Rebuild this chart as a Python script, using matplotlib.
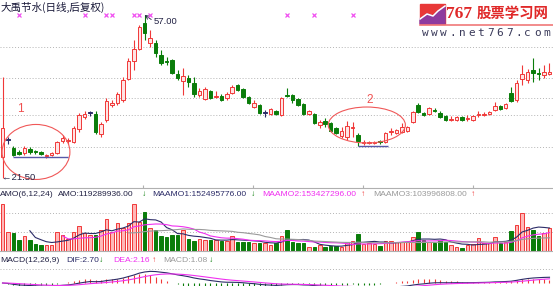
import numpy as np
import pandas as pd
import matplotlib
matplotlib.use('Agg')
import matplotlib.pyplot as plt
from matplotlib.patches import Ellipse, Rectangle, Polygon

plt.rcParams['font.family'] = ['Liberation Sans', 'DejaVu Sans']
CJK = ['Noto Sans CJK SC', 'DejaVu Sans']

# ================= 日K线数据 (后复权) =================
opens = [26.08, 29.78, 28.04, 27.17, 26.95, 27.82, 27.28, 27.17, 26.19, 26.51,
         26.95, 29.56, 29.56, 29.34, 32.17, 34.79, 35.66, 35.44, 31.09, 34.13,
         37.40, 37.84, 38.49, 43.06, 46.98, 49.60, 55.26, 50.90, 50.90, 48.29,
         46.98, 47.20, 44.15, 42.63, 43.28, 42.19, 39.58, 38.71, 40.45, 39.15,
         39.36, 38.93, 40.02, 41.76, 40.89, 39.15, 36.97, 37.40, 35.66, 35.44,
         36.10, 35.22, 39.58, 39.58, 38.71, 37.62, 35.44, 35.44, 33.05, 33.92,
         33.48, 32.39, 30.65, 30.43, 32.39, 30.87, 29.13, 29.13, 29.13, 29.56,
         29.34, 31.52, 31.30, 31.52, 31.74, 33.70, 37.40, 35.66, 35.44, 36.31,
         35.66, 35.01, 34.13, 34.13, 34.79, 34.35, 34.13, 35.22, 35.22, 35.44,
         36.31, 37.19, 36.75, 40.02, 38.49, 43.06, 42.84, 45.02, 44.37, 43.93,
         44.15]
highs = [43.50, 30.43, 28.47, 27.60, 28.47, 28.26, 27.60, 27.39, 26.73, 27.17,
         29.56, 30.87, 30.22, 32.83, 35.66, 36.10, 36.10, 36.10, 33.70, 38.93,
         38.49, 40.23, 43.50, 47.63, 51.56, 54.82, 57.00, 53.73, 51.56, 49.38,
         47.85, 47.42, 45.02, 45.46, 43.93, 43.50, 41.10, 41.32, 40.67, 40.45,
         39.80, 40.23, 41.76, 41.97, 41.10, 39.36, 38.49, 37.62, 36.31, 36.75,
         36.31, 39.15, 41.10, 39.80, 38.93, 37.84, 36.31, 35.66, 34.13, 34.57,
         33.70, 32.61, 32.61, 33.92, 33.70, 31.30, 29.78, 29.56, 29.56, 29.78,
         31.52, 32.39, 32.17, 33.48, 32.83, 36.10, 37.84, 35.88, 36.97, 36.75,
         36.10, 35.22, 35.01, 35.01, 35.01, 35.22, 35.22, 36.10, 35.88, 36.10,
         38.06, 37.40, 37.84, 41.32, 42.84, 46.11, 45.24, 47.63, 45.46, 46.11,
         46.55]
lows = [21.50, 28.91, 26.30, 26.51, 26.51, 26.73, 26.73, 26.51, 25.86, 26.30,
        26.73, 29.13, 28.91, 29.13, 31.52, 34.35, 35.01, 31.09, 30.43, 33.70,
        36.97, 37.40, 38.06, 42.84, 45.02, 49.38, 51.56, 50.03, 47.85, 46.11,
        46.11, 44.15, 42.84, 39.58, 41.32, 39.15, 39.15, 38.49, 38.71, 38.93,
        38.27, 38.49, 39.80, 40.45, 38.93, 37.62, 36.75, 35.44, 34.79, 35.22,
        35.22, 35.01, 39.15, 37.84, 37.19, 35.22, 35.22, 33.26, 32.39, 32.61,
        31.52, 31.09, 30.22, 29.78, 30.43, 28.47, 28.69, 28.91, 28.91, 28.91,
        29.13, 30.87, 31.09, 31.30, 31.52, 33.48, 35.66, 35.01, 35.22, 35.88,
        34.57, 33.92, 33.92, 33.92, 33.92, 33.92, 33.92, 34.79, 35.01, 35.22,
        36.10, 36.31, 36.53, 38.06, 38.06, 41.76, 42.19, 42.41, 42.84, 43.28,
        43.93]
closes = [32.39, 29.78, 26.51, 26.73, 28.04, 27.17, 27.06, 26.73, 26.41, 26.95,
          29.34, 30.22, 29.78, 32.39, 35.22, 35.44, 35.66, 31.52, 33.26, 38.27,
          37.84, 39.80, 42.84, 46.98, 49.60, 54.39, 53.08, 51.99, 48.72, 46.55,
          46.76, 44.37, 43.28, 43.71, 42.41, 39.80, 40.45, 40.89, 38.93, 39.36,
          38.49, 39.80, 41.32, 40.67, 39.15, 37.84, 37.84, 35.66, 35.66, 36.53,
          35.44, 38.93, 39.36, 38.49, 37.40, 35.44, 36.10, 33.48, 33.70, 33.26,
          31.74, 31.30, 31.74, 32.83, 32.61, 29.56, 29.34, 29.34, 29.34, 29.34,
          31.30, 31.74, 31.96, 32.61, 32.61, 35.88, 35.88, 35.22, 36.75, 36.10,
          34.79, 34.13, 34.35, 34.79, 34.13, 34.57, 35.01, 35.44, 35.44, 35.88,
          37.19, 36.53, 37.62, 38.27, 42.19, 44.15, 44.59, 44.37, 44.15, 44.59,
          44.59]
# 成交额 AMO, 单位: 亿元
amo = [2.47, 1.01, 0.96, 0.58, 0.79, 0.58, 0.35, 0.32, 0.32, 0.32,
       0.98, 0.84, 0.61, 0.98, 1.33, 0.93, 0.84, 0.84, 1.10, 1.66,
       1.01, 1.45, 1.19, 1.45, 2.50, 1.54, 2.03, 1.19, 1.10, 0.79,
       0.75, 0.84, 0.84, 1.10, 0.61, 0.54, 0.61, 0.58, 0.58, 0.58,
       0.54, 0.54, 0.79, 0.49, 0.49, 0.49, 0.40, 0.44, 0.44, 0.32,
       0.42, 0.79, 1.10, 0.49, 0.44, 0.40, 0.23, 0.23, 0.32, 0.23,
       0.26, 0.26, 0.23, 0.49, 0.53, 0.88, 0.37, 0.40, 0.37, 0.28,
       0.53, 0.53, 0.49, 0.49, 0.49, 0.72, 1.01, 0.58, 0.49, 0.40,
       0.58, 0.49, 0.32, 0.23, 0.17, 0.32, 0.35, 0.67, 0.40, 0.40,
       0.72, 0.40, 0.46, 1.05, 1.37, 2.01, 1.24, 1.10, 0.79, 0.93,
       1.19]

info_days = [3, 15, 19, 20, 24, 25, 27, 52, 57, 64]   # 信息地雷
price_grid = [50.03, 43.28, 38.93, 35.22, 28.26]
amo_grid = [1.0, 2.0]
month_ticks = [25.7, 45.8, 65.9, 86.0]

RED = '#F03838'
GREEN = '#0A7D0A'
NAVY = '#2C2C68'
MAGENTA = '#F030F0'
GRAY = '#9A9A9A'
TXT = '#222244'

o = np.array(opens); h = np.array(highs); l = np.array(lows); c = np.array(closes)
x = np.arange(len(c))
up = c > o
down = c < o
edge = np.where(up, RED, np.where(down, GREEN, NAVY))
face = np.where(up, '#FFE4E4', np.where(down, GREEN, NAVY))
body_bot = np.minimum(o, c)
body_h = np.maximum(np.abs(c - o), 0.12)

W, H = 553, 286
fig = plt.figure(figsize=(W / 100, H / 100), dpi=100)


def px_axes(top, bottom):
    return fig.add_axes([0, (H - bottom) / H, 1, (bottom - top) / H])


XLIM = (-0.46, 100.64)

# ================= 主图 K线 =================
ax = px_axes(0, 188)
ax.set_xlim(*XLIM)
ax.set_ylim(19.32, 60.27)
for g in price_grid:
    ax.axhline(g, color='#B4B4B4', lw=0.7, ls=(0, (1, 2)), zorder=0)
ax.vlines(x, l, h, colors=edge, lw=0.8, zorder=2)
ax.bar(x, body_h, bottom=body_bot, width=0.64, color=face, edgecolor=edge,
       linewidth=0.7, zorder=3)

ax.plot(info_days, [0.92] * len(info_days), 'x', color='#F050F0', ms=3, mew=0.9,
        transform=ax.get_xaxis_transform(), zorder=4)

top_i = int(np.argmax(h))
ax.annotate('%.2f' % h[top_i], xy=(top_i, h[top_i]), xytext=(top_i + 1.7, 55.6),
            fontsize=6.8, color=TXT, va='center', ha='left',
            arrowprops=dict(arrowstyle='->', color=TXT, lw=0.6, shrinkA=0, shrinkB=0,
                            relpos=(0, 0.5)))
low_i = int(np.argmin(l))
ax.text(low_i - 0.1, l[low_i], '←%.2f' % l[low_i], fontsize=6.8, color=TXT,
        va='center', ha='left', zorder=6)

# 底部区域标注
ax.add_patch(Ellipse((6.12, 27.17), 12.4, 11.98, fill=False, ec='#F05858', lw=0.8, zorder=5))
ax.add_patch(Ellipse((66.6, 33.04), 14.1, 7.84, fill=False, ec='#F05858', lw=0.8, zorder=5))
ax.hlines(26.08, 2, 12, color='#5858A8', lw=1.0, zorder=5)
ax.hlines(28.47, 65, 70.5, color='#5858A8', lw=1.0, zorder=5)
ax.text(3.2, 36.53, '1', color='#F05050', fontsize=8.5, ha='center', va='center')
ax.text(67.2, 38.49, '2', color='#F05050', fontsize=8.5, ha='center', va='center')

for s in ['top', 'left', 'right']:
    ax.spines[s].set_visible(False)
ax.spines['bottom'].set_color('#B0B0B0')
ax.spines['bottom'].set_linewidth(0.8)
ax.set_xticks(month_ticks)
ax.tick_params(axis='x', direction='in', length=2, color='#B0B0B0', labelbottom=False)
ax.set_yticks([])

# ================= AMO 成交额 =================
av = px_axes(199, 251)
av.set_xlim(*XLIM)
av.set_ylim(0, 52 / 19)
for g in amo_grid:
    av.axhline(g, color='#B4B4B4', lw=0.7, ls=(0, (1, 2)), zorder=0)
vface = np.where(down, GREEN, '#FFB8B8')
vedge = np.where(down, GREEN, RED)
av.bar(x, amo, width=0.64, color=vface, edgecolor=vedge, linewidth=0.7, zorder=2)
amo_s = pd.Series(amo)
av.plot(x, amo_s.rolling(6).mean(), color=NAVY, lw=0.8, zorder=3)
av.plot(x, amo_s.rolling(12).mean(), color=MAGENTA, lw=0.8, zorder=3)
av.plot(x, amo_s.rolling(24).mean(), color=GRAY, lw=0.8, zorder=3)
for s in ['top', 'left', 'right']:
    av.spines[s].set_visible(False)
av.spines['bottom'].set_color('#B0B0B0')
av.set_xticks([])
av.set_yticks([])

# ================= MACD =================
am = px_axes(262, 304)
am.set_xlim(*XLIM)
am.set_ylim(-10, 10)
close_s = pd.Series(closes)
dif = close_s.ewm(span=12, adjust=False).mean() - close_s.ewm(span=26, adjust=False).mean()
dea = dif.ewm(span=9, adjust=False).mean()
macd = 2 * (dif - dea)
am.axhline(6.6, color='#B4B4B4', lw=0.7, ls=(0, (1, 2)), zorder=0)
am.vlines(x, 0, macd, colors=np.where(macd >= 0, RED, GREEN), lw=0.8, zorder=2)
am.plot(x, dif, color=NAVY, lw=0.8, zorder=3)
am.plot(x, dea, color=MAGENTA, lw=0.8, zorder=3)
am.axis('off')

# ================= 文字 / 标识 =================
ov = fig.add_axes([0, 0, 1, 1])
ov.set_xlim(0, W)
ov.set_ylim(H, 0)
ov.axis('off')
ov.patch.set_alpha(0)

ov.text(1, 7, '大禹节水(日线,后复权)', family=CJK, fontsize=7.6, color='#1A1A3A',
        va='center', ha='left')

FS = 6.1
amo_head = [(0, 'AMO(6,12,24)', TXT), (58, 'AMO:119289936.00', TXT), (142, '↓', GREEN),
            (152, 'MAAMO1:152495776.00', NAVY), (251, '↓', GREEN),
            (262, 'MAAMO2:153427296.00', MAGENTA), (361, '↑', RED),
            (373, 'MAAMO3:103996808.00', GRAY), (471, '↑', RED)]
for xx, t, col in amo_head:
    ov.text(xx, 195, t, fontsize=FS, color=col, va='center', ha='left')
macd_head = [(0, 'MACD(12,26,9)', TXT), (66, 'DIF:2.70', NAVY), (99, '↓', GREEN),
             (113, 'DEA:2.16', MAGENTA), (152, '↑', RED),
             (163, 'MACD:1.08', GRAY), (209, '↓', GREEN)]
for xx, t, col in macd_head:
    ov.text(xx, 260, t, fontsize=FS, color=col, va='center', ha='left')

# 767 logo
ov.add_patch(Rectangle((420, 4), 25, 20, color='#E83838'))
ov.add_patch(Polygon([(420, 24), (445, 24), (445, 6), (438, 11), (433, 16), (427, 14),
                      (420, 19)], closed=True, color='#8E3A9E'))
ov.plot([420, 427, 433, 438, 445], [19, 14, 16, 11, 6], color='white', lw=1.1)
ov.text(446, 14, '767', fontsize=12.5, fontweight='bold', color='#E02828',
        va='center', ha='left', family='Liberation Serif')
ov.text(477, 14, '股票学习网', family=CJK, fontsize=10.4, fontweight='bold',
        color='#E02828', va='center', ha='left')
ov.plot([420, 553], [25, 25], color='#F07878', lw=1.2)
for k, ch in enumerate('www.net767.com'):
    ov.text(425 + 9.35 * k, 33, ch, ha='center', va='center', fontsize=8,
            color='#3A3A5A', family='DejaVu Sans Mono')

fig.savefig('out.png', dpi=100)
